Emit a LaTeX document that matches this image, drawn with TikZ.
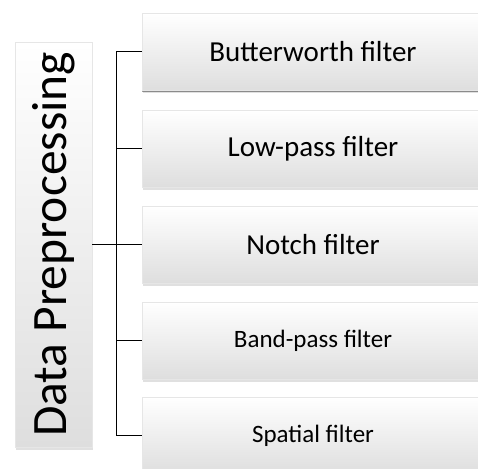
\documentclass[tikz,border=0pt]{standalone}
\usepackage{fontspec}
\setmainfont{Carlito}
\usetikzlibrary{shadows}
\definecolor{boxbottom}{HTML}{DEDEDE}
\definecolor{boxedge}{HTML}{E6E6E6}
\tikzset{
  x=1pt, y=-1pt,
  softshade/.style={
    drop shadow={shadow xshift=0.6pt, shadow yshift=-2.6pt, fill=black, opacity=0.12},
    drop shadow={shadow xshift=0.3pt, shadow yshift=-1.4pt, fill=black, opacity=0.38}},
  filterbox/.style={rectangle, softshade, minimum width=342pt, minimum height=77pt,
    inner sep=0pt, top color=white, bottom color=boxbottom, draw=boxedge,
    line width=0.6pt, text=black},
  rootbox/.style={rectangle, softshade, minimum width=77pt, minimum height=405pt,
    inner sep=0pt, top color=white, bottom color=boxbottom, draw=boxedge,
    line width=0.6pt},
  link/.style={draw=black, line width=1pt},
  big/.style={font=\fontsize{29}{32}\selectfont},
  small/.style={font=\fontsize{25}{28}\selectfont}
}
\begin{document}
\begin{tikzpicture}
\clip (0,0) rectangle (478,468);

% root of the tree
\node[rootbox] (dp) at (53.5,244.5) {};
\node[rotate=90, font=\fontsize{49.5}{54}\selectfont] (dptext) at (dp.center) {Data Preprocessing};

% filter boxes
\node[filterbox, big]   (f1) at (313,52)    {Butterworth filter};
\node[filterbox, big]   (f2) at (313,148.5) {Low-pass filter};
\node[filterbox, big]   (f3) at (313,244.5) {Notch filter};
\node[filterbox, small] (f4) at (313,340.5) {Band-pass filter};
\node[filterbox, small] (f5) at (313,435.5) {Spatial filter};

% connectors
\coordinate (trunk) at (117,244.5);
\draw[link] (dp.east) -- (trunk);
\draw[link] (f1.west) -- ++(-25,0) |- (f5.west);
\draw[link] (trunk |- f2.west) -- (f2.west);
\draw[link] (trunk) -- (f3.west);
\draw[link] (trunk |- f4.west) -- (f4.west);
\end{tikzpicture}
\end{document}
